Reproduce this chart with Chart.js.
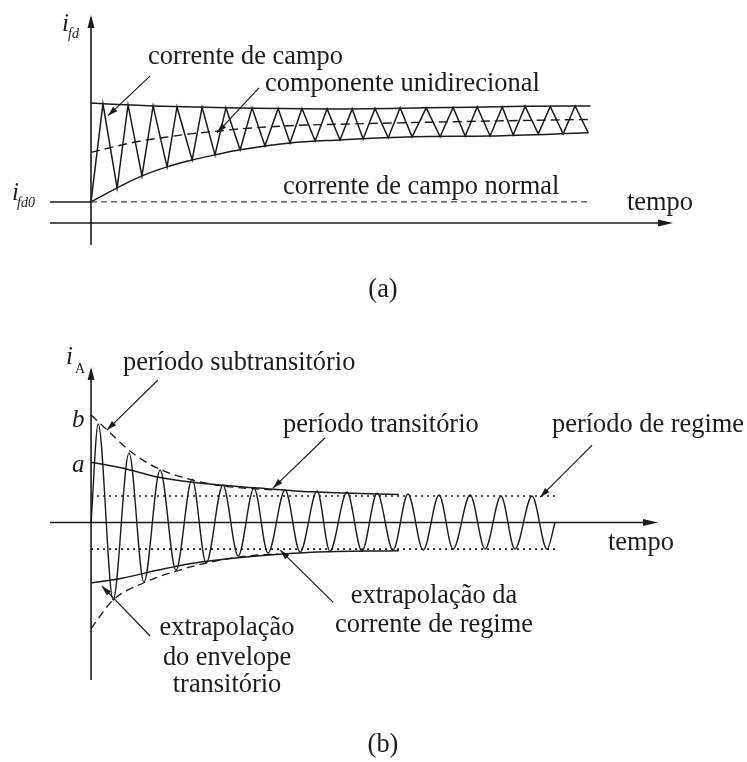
<!DOCTYPE html>
<html>
<head>
<meta charset="utf-8">
<script src="https://cdn.jsdelivr.net/npm/chart.js@4.4.0/dist/chart.umd.min.js"></script>
<style>
  body { margin: 0; background: #fff; }
  canvas { display: block; }
</style>
</head>
<body>
<canvas id="chartA" width="747" height="310"></canvas>
<canvas id="chartB" width="747" height="452"></canvas>
<script>
// ---- (a) corrente de campo i_fd ----
const aStartT = 0, aStartV = 1.0;
const aPeakT = [0.48, 1.49, 2.50, 3.46, 4.47, 5.43, 6.48, 7.53, 8.49, 9.50, 10.51, 11.43, 12.44, 13.49, 14.57, 15.54, 16.55, 17.47, 18.48, 19.48];
const aPeakV = [5.67, 5.62, 5.57, 5.52, 5.50, 5.48, 5.48, 5.45, 5.45, 5.43, 5.43, 5.45, 5.48, 5.48, 5.50, 5.52, 5.52, 5.55, 5.55, 5.57];
const aTroughT = [1.05, 2.05, 3.06, 4.07, 4.99, 6.00, 7.00, 8.01, 9.02, 10.02, 10.95, 11.96, 12.92, 14.05, 15.06, 16.06, 16.99, 18.00, 19.00, 20.01];
const aTroughV = [1.67, 2.24, 2.67, 3.00, 3.24, 3.48, 3.67, 3.81, 3.90, 3.95, 4.00, 4.05, 4.10, 4.10, 4.14, 4.14, 4.19, 4.24, 4.24, 4.29];
const aUpperT = [0, 0.48, 2.50, 5.43, 9.50, 13.49, 17.47, 20.1];
const aUpperV = [5.71, 5.67, 5.57, 5.48, 5.43, 5.48, 5.55, 5.57];
const aLowerT = [0, 1.05, 2.05, 3.06, 4.07, 4.99, 6.00, 8.01, 10.02, 12.92, 16.06, 20.01];
const aLowerV = [1.00, 1.67, 2.24, 2.67, 3.00, 3.24, 3.48, 3.81, 3.95, 4.10, 4.14, 4.29];
const aMeanT = [0, 1, 2, 3, 4, 5, 6, 8, 10, 13, 16, 20.1];
const aMeanV = [3.36, 3.65, 3.90, 4.08, 4.24, 4.36, 4.48, 4.63, 4.70, 4.78, 4.85, 4.93];
const aNormalT = [0, 20.1];
const aNormalV = [1.0, 1.0];
const aLeadT = [-1.65, 0];
const aLeadV = [1.0, 1.0];

// ---- (b) corrente de armadura i_A ----
const bStart = [0, 0];
const bEnd = [14.92, 0];
const bPeakT = [0.23, 1.22, 2.22, 3.25, 4.24, 5.24, 6.24, 7.27, 8.23, 9.20, 10.19, 11.19, 12.19, 13.18, 14.18];
const bPeakV = [3.72, 2.62, 1.98, 1.64, 1.42, 1.30, 1.23, 1.19, 1.15, 1.11, 1.08, 1.04, 1.04, 1.00, 1.00];
const bTroughT = [0.71, 1.70, 2.73, 3.70, 4.73, 5.69, 6.72, 7.68, 8.71, 9.71, 10.68, 11.64, 12.67, 13.63, 14.66];
const bTroughV = [-2.92, -2.25, -1.79, -1.53, -1.26, -1.15, -1.11, -1.08, -1.08, -1.04, -1.04, -1.00, -1.00, -1.00, -1.00];
const bTransT = [0, 1.00, 2.13, 3.18, 5.43, 7.10, 9.90];
const bTransUpV = [2.28, 2.06, 1.72, 1.53, 1.30, 1.16, 1.06];
const bTransLoV = [-2.28, -2.10, -1.80, -1.55, -1.25, -1.12, -1.06];
const bSubUpT = [0, 0.52, 1.25, 2.12, 3.29, 4.24, 5.43, 6.00];
const bSubUpV = [4.06, 3.49, 2.70, 2.06, 1.60, 1.38, 1.26, 1.22];
const bSubLoT = [0, 0.71, 1.70, 2.73, 3.70, 4.73, 6.00];
const bSubLoV = [-4.00, -2.92, -2.27, -1.83, -1.53, -1.30, -1.17];
const bSteadyT = [0, 15.0];
const bSteadyUpV = [1.0, 1.0];
const bSteadyLoV = [-1.0, -1.0];

const INK = '#1b1b1b';
const SERIF = '"Liberation Serif", "DejaVu Serif", serif';

function pts(ts, vs) {
    return ts.map((t, i) => ({ x: t, y: vs[i] }));
}

// junta picos e vales numa única sequência ordenada no tempo
function wave(start, peaksT, peaksV, troughsT, troughsV, end) {
    const all = pts(peaksT, peaksV).concat(pts(troughsT, troughsV));
    all.push({ x: start[0], y: start[1] });
    if (end) all.push({ x: end[0], y: end[1] });
    return all.sort((p, q) => p.x - q.x);
}

function line(data, extra = {}) {
    return Object.assign({
        data,
        showLine: true,
        borderColor: INK,
        borderWidth: 1.5,
        pointRadius: 0,
        fill: false,
        tension: 0
    }, extra);
}

function arrowHead(ctx, x0, y0, x1, y1, len, half) {
    const ang = Math.atan2(y1 - y0, x1 - x0);
    const c = Math.cos(ang), s = Math.sin(ang);
    ctx.beginPath();
    ctx.moveTo(x1, y1);
    ctx.lineTo(x1 - len * c + half * s, y1 - len * s - half * c);
    ctx.lineTo(x1 - len * c - half * s, y1 - len * s + half * c);
    ctx.closePath();
    ctx.fill();
}

// eixos com seta, setas indicativas e textos
const diagramPlugin = {
    id: 'diagram',
    afterDatasetsDraw(chart, args, opts) {
        const ctx = chart.ctx;
        const sx = chart.scales.x, sy = chart.scales.y;
        const area = chart.chartArea;
        const x0 = sx.getPixelForValue(0), y0 = sy.getPixelForValue(0);
        ctx.save();
        ctx.strokeStyle = INK;
        ctx.fillStyle = INK;
        ctx.lineWidth = 1.6;
        ctx.setLineDash([]);
        // eixo vertical
        ctx.beginPath();
        ctx.moveTo(x0, area.bottom);
        ctx.lineTo(x0, area.top + 10);
        ctx.stroke();
        arrowHead(ctx, x0, area.bottom, x0, area.top, 13, 3.5);
        // eixo do tempo
        ctx.beginPath();
        ctx.moveTo(area.left, y0);
        ctx.lineTo(area.right - 10, y0);
        ctx.stroke();
        arrowHead(ctx, area.left, y0, area.right, y0, 15, 3.5);

        // setas indicativas
        ctx.lineWidth = 1.2;
        (opts.leaders || []).forEach(a => {
            const fx = sx.getPixelForValue(a.from[0]), fy = sy.getPixelForValue(a.from[1]);
            const tx = sx.getPixelForValue(a.to[0]), ty = sy.getPixelForValue(a.to[1]);
            ctx.beginPath();
            ctx.moveTo(fx, fy);
            ctx.lineTo(tx, ty);
            ctx.stroke();
            arrowHead(ctx, fx, fy, tx, ty, 10, 3);
        });

        // textos
        ctx.textBaseline = 'alphabetic';
        (opts.labels || []).forEach(l => {
            ctx.font = l.font;
            ctx.textAlign = l.align || 'left';
            ctx.fillText(l.text, l.x, l.y);
        });
        ctx.restore();
    }
};

const F = (size, style = '') => `${style} ${size}px ${SERIF}`;

function baseOptions(xr, yr, padding, leaders, labels) {
    return {
        responsive: false,
        animation: false,
        events: [],
        layout: { padding },
        plugins: {
            legend: { display: false },
            tooltip: { enabled: false },
            diagram: { leaders, labels }
        },
        scales: {
            x: { type: 'linear', min: xr[0], max: xr[1], display: false },
            y: { type: 'linear', min: yr[0], max: yr[1], display: false }
        }
    };
}

// ---- gráfico (a) ----
new Chart(document.getElementById('chartA'), {
    type: 'scatter',
    data: {
        datasets: [
            line(wave([aStartT, aStartV], aPeakT, aPeakV, aTroughT, aTroughV)),
            line(pts(aUpperT, aUpperV), { cubicInterpolationMode: 'monotone' }),
            line(pts(aLowerT, aLowerV), { cubicInterpolationMode: 'monotone' }),
            line(pts(aMeanT, aMeanV), { cubicInterpolationMode: 'monotone', borderDash: [9, 5], borderWidth: 1.4 }),
            line(pts(aNormalT, aNormalV), { borderDash: [6, 4], borderWidth: 1.2, borderColor: '#444' }),
            line(pts(aLeadT, aLeadV), { borderWidth: 1.4 })
        ]
    },
    options: baseOptions([-1.65, 23.42], [-1.05, 9.9], { left: 50, right: 74, top: 15, bottom: 65 },
        [
            { from: [2.38, 7.0], to: [0.68, 5.10] },
            { from: [6.76, 6.43], to: [5.07, 4.29] }
        ],
        [
            { text: 'i', x: 62, y: 31, font: F(25, 'italic') },
            { text: 'fd', x: 68, y: 38, font: F(14, 'italic') },
            { text: 'i', x: 12, y: 200, font: F(25, 'italic') },
            { text: 'fd0', x: 17, y: 207, font: F(14, 'italic') },
            { text: 'corrente de campo', x: 148, y: 64, font: F(26.4) },
            { text: 'componente unidirecional', x: 265, y: 91, font: F(26.4) },
            { text: 'corrente de campo normal', x: 283, y: 194, font: F(26.4) },
            { text: 'tempo', x: 627, y: 210, font: F(26.4) },
            { text: '(a)', x: 383, y: 297, font: F(26.4), align: 'center' }
        ]),
    plugins: [diagramPlugin]
});

// ---- gráfico (b) ----
new Chart(document.getElementById('chartB'), {
    type: 'scatter',
    data: {
        datasets: [
            line(wave(bStart, bPeakT, bPeakV, bTroughT, bTroughV, bEnd), { cubicInterpolationMode: 'monotone', borderWidth: 1.4 }),
            line(pts(bTransT, bTransUpV), { cubicInterpolationMode: 'monotone' }),
            line(pts(bTransT, bTransLoV), { cubicInterpolationMode: 'monotone' }),
            line(pts(bSubUpT, bSubUpV), { cubicInterpolationMode: 'monotone', borderDash: [8, 5], borderWidth: 1.3 }),
            line(pts(bSubLoT, bSubLoV), { cubicInterpolationMode: 'monotone', borderDash: [8, 5], borderWidth: 1.3 }),
            line(pts(bSteadyT, bSteadyUpV), { borderDash: [2, 4], borderWidth: 1.6 }),
            line(pts(bSteadyT, bSteadyLoV), { borderDash: [2, 4], borderWidth: 1.6 })
        ]
    },
    options: baseOptions([-1.32, 18.23], [-5.94, 5.87], { left: 50, right: 89, top: 57, bottom: 82 },
        [
            { from: [2.15, 5.38], to: [0.51, 3.49] },
            { from: [7.52, 3.19], to: [5.85, 1.30] },
            { from: [16.11, 2.92], to: [14.44, 0.96] },
            { from: [7.78, -3.0], to: [6.08, -1.04] },
            { from: [1.90, -4.28], to: [0.35, -2.40] }
        ],
        [
            { text: 'i', x: 66, y: 54, font: F(25, 'italic') },
            { text: 'A', x: 75, y: 63, font: F(14) },
            { text: 'b', x: 72, y: 117, font: F(25, 'italic') },
            { text: 'a', x: 72, y: 162, font: F(25, 'italic') },
            { text: 'período subtransitório', x: 123, y: 60, font: F(26.4) },
            { text: 'período transitório', x: 283, y: 122, font: F(26.4) },
            { text: 'período de regime', x: 552, y: 122, font: F(26.4) },
            { text: 'tempo', x: 608, y: 240, font: F(26.4) },
            { text: 'extrapolação da', x: 434, y: 293, font: F(26.4), align: 'center' },
            { text: 'corrente de regime', x: 434, y: 322, font: F(26.4), align: 'center' },
            { text: 'extrapolação', x: 227, y: 325, font: F(26.4), align: 'center' },
            { text: 'do envelope', x: 227, y: 355, font: F(26.4), align: 'center' },
            { text: 'transitório', x: 227, y: 382, font: F(26.4), align: 'center' },
            { text: '(b)', x: 383, y: 442, font: F(26.4), align: 'center' }
        ]),
    plugins: [diagramPlugin]
});
</script>
</body>
</html>
